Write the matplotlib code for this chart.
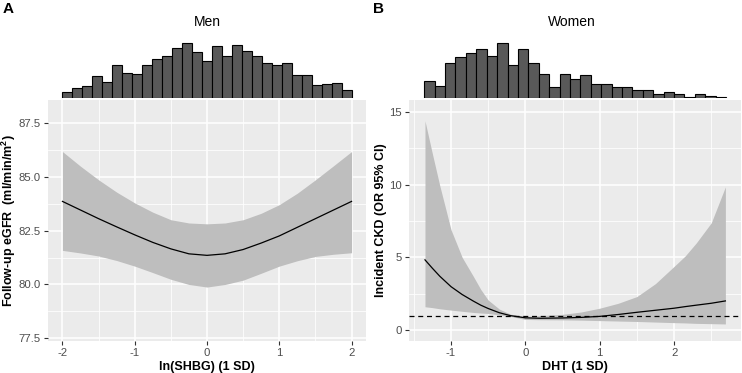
import matplotlib
matplotlib.use("Agg")
import matplotlib.pyplot as plt
import numpy as np

plt.rcParams['font.family'] = ['Liberation Sans', 'DejaVu Sans']
plt.rcParams['mathtext.fontset'] = 'custom'
plt.rcParams['mathtext.rm'] = 'Liberation Sans'
plt.rcParams['mathtext.bf'] = 'Liberation Sans:bold'

# ---- data ----
# Men: marginal histogram (29 bins over -2..2), heights in relative units
men_counts = [19, 30, 36, 66, 49, 98, 76, 72, 98, 118, 127, 150, 165, 139, 110,
              156, 127, 159, 141, 126, 104, 100, 104, 68, 68, 38, 42, 45, 25]
men_range = (-2.0, 2.0)
men_x = [-2, -1.75, -1.5, -1.25, -1, -0.75, -0.5, -0.25, 0, 0.25, 0.5, 0.75, 1, 1.25, 1.5, 1.75, 2]
men_fit = [83.85, 83.45, 83.05, 82.67, 82.3, 81.95, 81.65, 81.42, 81.35, 81.42, 81.62,
           81.92, 82.25, 82.65, 83.05, 83.45, 83.85]
men_hi = [86.16, 85.48, 84.85, 84.28, 83.78, 83.35, 83.0, 82.85, 82.81, 82.85, 83.0,
          83.3, 83.7, 84.23, 84.85, 85.5, 86.16]
men_lo = [81.58, 81.46, 81.32, 81.11, 80.85, 80.55, 80.24, 80.0, 79.88, 80.0, 80.2,
          80.52, 80.85, 81.1, 81.3, 81.4, 81.47]

# Women: marginal histogram (29 bins over -1.36..2.70)
women_counts = [52, 36, 104, 122, 136, 148, 125, 165, 99, 147, 104, 72, 33, 72, 58,
                68, 41, 41, 32, 32, 24, 24, 11, 19, 11, 2, 11, 5, 4]
women_range = (-1.36, 2.70)
women_x = [-1.35, -1.25, -1.15, -1.0, -0.85, -0.7, -0.6, -0.5, -0.35, -0.2, 0,
           0.2, 0.5, 0.75, 1.0, 1.25, 1.5, 1.75, 2.0, 2.15, 2.3, 2.5, 2.69]
women_fit = [4.83, 4.25, 3.7, 2.99, 2.45, 2.0, 1.72, 1.49, 1.2, 1.0, 0.85,
             0.82, 0.84, 0.88, 0.95, 1.08, 1.23, 1.37, 1.51, 1.62, 1.72, 1.85, 2.01]
women_hi = [14.37, 12.1, 9.9, 6.9, 5.0, 3.7, 2.8, 2.07, 1.45, 1.1, 0.95,
            1.0, 1.09, 1.25, 1.51, 1.85, 2.31, 3.2, 4.38, 5.1, 6.0, 7.37, 9.84]
women_lo = [1.61, 1.55, 1.47, 1.38, 1.3, 1.22, 1.18, 1.15, 1.05, 0.95, 0.74,
            0.72, 0.71, 0.69, 0.66, 0.63, 0.6, 0.56, 0.52, 0.5, 0.47, 0.45, 0.43]

W, H = 742, 373
fig = plt.figure(figsize=(W / 100, H / 100), dpi=100)


def px_axes(x0, y0, x1, y1):
    return fig.add_axes([x0 / W, (H - y1) / H, (x1 - x0) / W, (y1 - y0) / H])


def gg_style(ax):
    ax.set_facecolor('#EBEBEB')
    for s in ax.spines.values():
        s.set_visible(False)
    ax.grid(True, which='major', color='white', lw=1.1)
    ax.grid(True, which='minor', color='white', lw=0.55)
    ax.set_axisbelow(True)
    ax.tick_params(which='major', length=3, width=0.8, color='#333333',
                   labelsize=8.2, labelcolor='#4D4D4D', pad=2)
    ax.tick_params(which='minor', length=0)


def marginal_hist(ax, counts, rng, xlim):
    edges = np.linspace(rng[0], rng[1], len(counts) + 1)
    ax.bar(edges[:-1], counts, width=np.diff(edges), align='edge',
           color='#595959', edgecolor='black', linewidth=0.8)
    ax.set_xlim(xlim)
    ax.set_ylim(0, max(counts) * 58 / 55)
    ax.axis('off')


def labels(ax, xl, yl, ypos):
    ax.set_xlabel(xl, fontsize=9, fontweight='bold', va='center')
    ax.set_ylabel(yl, fontsize=9, fontweight='bold', va='center')
    ax.xaxis.set_label_coords(0.5, -0.107)
    ax.yaxis.set_label_coords(ypos, 0.5)


# ---- panel A ----
axA = px_axes(48, 100, 366, 341)
gg_style(axA)
axA.fill_between(men_x, men_lo, men_hi, color='#BEBEBE', lw=0)
axA.plot(men_x, men_fit, color='black', lw=0.9)
axA.set_xlim(-2.2, 2.2)
axA.set_ylim(77.38, 88.55)
axA.set_xticks([-2, -1, 0, 1, 2])
axA.set_xticklabels(['-2', '-1', '0', '1', '2'])
axA.set_xticks([-1.5, -0.5, 0.5, 1.5], minor=True)
axA.set_yticks([77.5, 80.0, 82.5, 85.0, 87.5])
axA.set_yticklabels(['77.5', '80.0', '82.5', '85.0', '87.5'])
axA.set_yticks([78.75, 81.25, 83.75, 86.25], minor=True)
labels(axA, 'ln(SHBG) (1 SD)', r'Follow-up eGFR  (ml/min/m$\mathbf{^2}$)', -0.124)

hA = px_axes(48, 40, 366, 98)
marginal_hist(hA, men_counts, men_range, axA.get_xlim())

# ---- panel B ----
axB = px_axes(409, 100, 741, 341)
gg_style(axB)
axB.fill_between(women_x, women_lo, women_hi, color='#BEBEBE', lw=0)
axB.plot(women_x, women_fit, color='black', lw=0.9)
axB.axhline(1, color='black', lw=0.9, ls=(0, (4, 3)))
axB.set_xlim(-1.565, 2.9)
axB.set_ylim(-0.74, 15.8)
axB.set_xticks([-1, 0, 1, 2])
axB.set_xticklabels(['-1', '0', '1', '2'])
axB.set_xticks([-1.5, -0.5, 0.5, 1.5, 2.5], minor=True)
axB.set_yticks([0, 5, 10, 15])
axB.set_yticks([2.5, 7.5, 12.5], minor=True)
labels(axB, 'DHT (1 SD)', 'Incident CKD (OR 95% CI)', -0.085)

hB = px_axes(409, 40, 741, 98)
marginal_hist(hB, women_counts, women_range, axB.get_xlim())

# titles and panel letters
fig.text(207 / W, 1 - 22 / H, 'Men', ha='center', va='center', fontsize=10)
fig.text(572 / W, 1 - 22 / H, 'Women', ha='center', va='center', fontsize=10)
fig.text(3 / W, 1 - 9 / H, 'A', ha='left', va='center', fontsize=11, fontweight='bold')
fig.text(373 / W, 1 - 9 / H, 'B', ha='left', va='center', fontsize=11, fontweight='bold')

fig.savefig('out.png', dpi=100)
